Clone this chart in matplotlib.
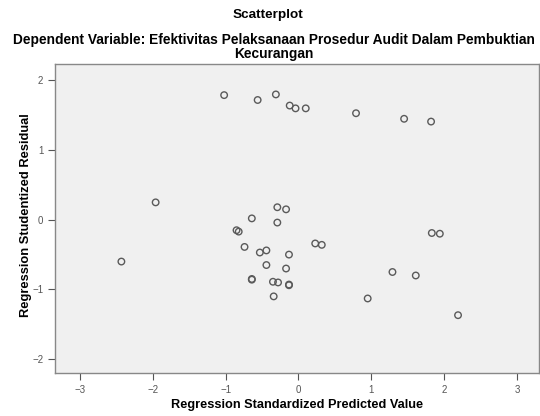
import matplotlib.pyplot as plt
import numpy as np

# Valores (predito padronizado x resíduo studentizado)
predito = [-1.02, -0.56, -0.31, -0.12, -0.04, 0.10, 0.79, 1.45, 1.82,
           -1.96, -0.29, -0.17, -0.64, -0.29, -0.85, -0.82,
           -2.43, -0.74, -0.53, -0.44, -0.13, -0.44, -0.17, -0.64, -0.64,
           -0.35, -0.28, -0.13, -0.13, -0.34, 0.23, 0.32, 1.83, 1.94,
           1.29, 1.61, 0.95, 2.19]
residuo = [1.79, 1.72, 1.80, 1.64, 1.60, 1.60, 1.53, 1.45, 1.41,
           0.25, 0.18, 0.15, 0.02, -0.04, -0.15, -0.17,
           -0.60, -0.39, -0.47, -0.44, -0.50, -0.65, -0.70, -0.85, -0.86,
           -0.89, -0.90, -0.93, -0.94, -1.10, -0.34, -0.36, -0.19, -0.20,
           -0.75, -0.80, -1.13, -1.37]
xticks = [-3, -2, -1, 0, 1, 2, 3]
yticks = [-2, -1, 0, 1, 2]

plt.rcParams['font.family'] = ['Liberation Sans', 'DejaVu Sans']

fig = plt.figure(figsize=(5.4, 4.16), dpi=100)
ax = fig.add_axes([0.102, 0.1034, 0.896, 0.7416])
ax.set_facecolor("#f0f0f0")

ax.scatter(predito, residuo, s=22, facecolors="none", edgecolors="#5a5a5a", linewidths=1.0)

ax.set_xlim(-3.34, 3.30)
ax.set_ylim(-2.2, 2.23)
ax.set_xticks(xticks)
ax.set_yticks(yticks)
ax.tick_params(labelsize=7, colors="#555555", length=5, width=0.8)
for s in ax.spines.values():
    s.set_color("#888888")
    s.set_linewidth(1.0)

# Rótulos dos eixos
fig.text(0.55, 0.026, "Regression Standardized Predicted Value", ha="center", va="center",
         fontsize=9.2, fontweight="bold")
fig.text(0.048, 0.483, "Regression Studentized Residual", ha="center", va="center",
         rotation=90, fontsize=9.3, fontweight="bold")

# Títulos
fig.text(0.497, 0.965, "Scatterplot", ha="center", va="center", fontsize=9.7, fontweight="bold")
fig.text(0.507, 0.905, "Dependent Variable: Efektivitas Pelaksanaan Prosedur Audit Dalam Pembuktian",
         ha="center", va="center", fontsize=9.9, fontweight="bold")
fig.text(0.507, 0.869, "Kecurangan", ha="center", va="center", fontsize=9.9, fontweight="bold")

fig.savefig("out.png", dpi=100)
